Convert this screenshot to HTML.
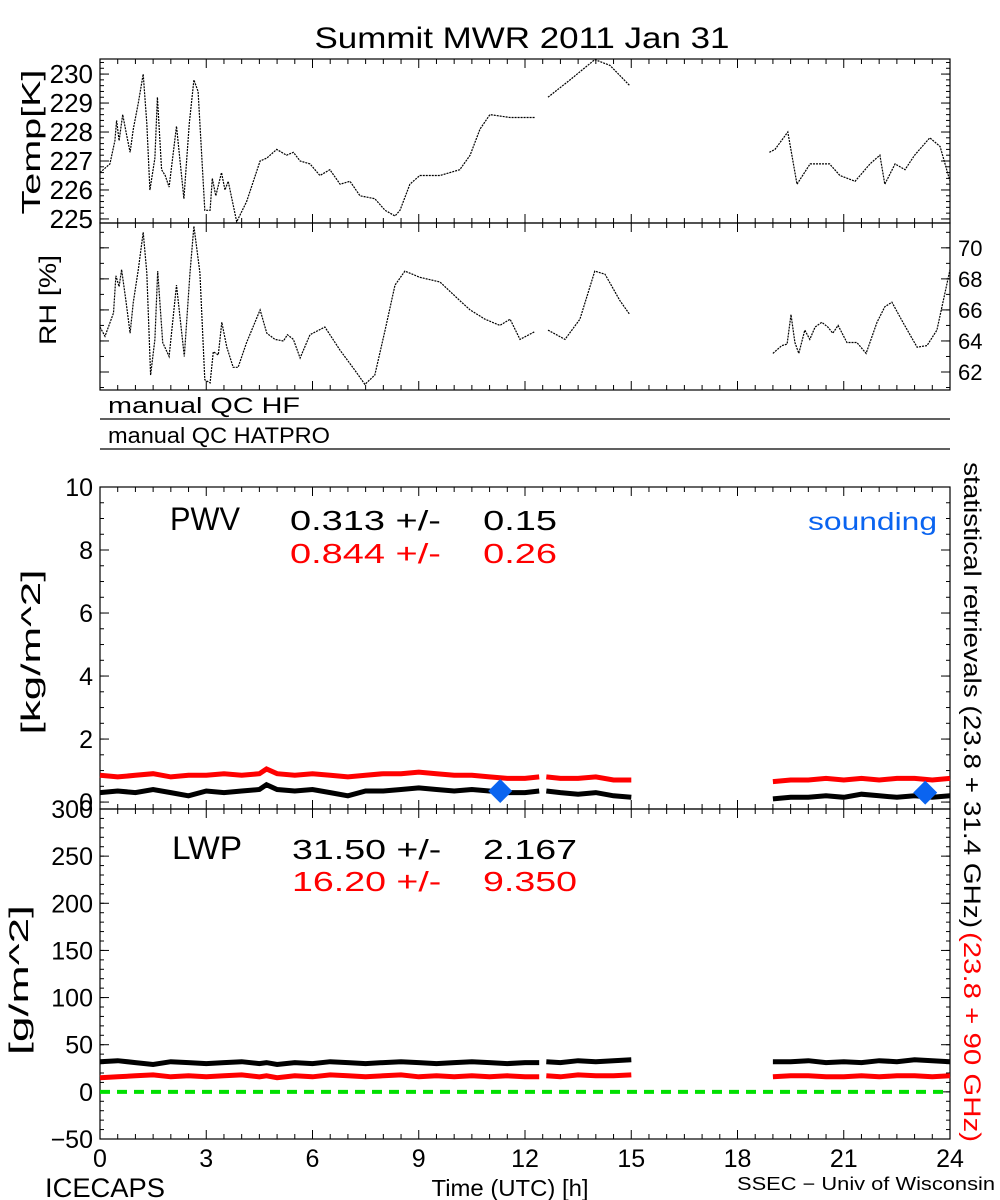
<!DOCTYPE html>
<html><head><meta charset="utf-8"><style>
html,body{margin:0;padding:0;background:#fff;}
svg{display:block;font-family:"Liberation Sans",sans-serif;}
text{white-space:pre;}
</style></head><body>
<svg id="c" width="1000" height="1200" viewBox="0 0 1000 1200"></svg>
<script>
// ---- data ----
const tempT=[0,.28,.42,.47,.54,.64,.75,.85,.94,1.08,1.22,1.32,1.41,1.55,1.62,1.74,1.84,1.95,2.16,2.37,2.52,2.65,2.77,2.96,3.11,3.17,3.27,3.43,3.53,3.62,3.86,4.14,4.52,4.71,4.99,5.27,5.46,5.65,5.93,6.21,6.49,6.78,7.06,7.34,7.76,8.05,8.33,8.47,8.75,9.03,9.6,10.16,10.45,10.73,11.01,11.58,12.28,null,12.65,13.27,13.97,14.4,14.96,null,18.9,19.06,19.42,19.68,20.05,20.6,20.89,21.32,21.74,22.02,22.16,22.45,22.73,23.0,23.43,23.72,24];
const tempV=[226.6,226.9,227.7,228.4,227.7,228.6,227.9,227.3,228.1,229.0,230.0,228.3,226.0,227.1,229.2,226.7,226.5,226.1,228.2,225.7,228.3,229.8,229.4,225.3,225.3,226.4,225.8,226.6,226.0,226.3,224.9,225.6,227.0,227.1,227.4,227.2,227.3,227.0,226.9,226.5,226.7,226.2,226.3,225.8,225.7,225.3,225.1,225.3,226.2,226.5,226.5,226.7,227.2,228.1,228.6,228.5,228.5,null,229.2,229.8,230.5,230.3,229.6,null,227.3,227.4,228.0,226.2,226.9,226.9,226.5,226.3,226.9,227.2,226.2,226.9,226.7,227.2,227.8,227.5,226.3];
const rhT=[0,.14,.38,.45,.54,.61,.73,.85,.94,1.08,1.22,1.32,1.43,1.55,1.63,1.77,1.95,2.16,2.38,2.54,2.65,2.82,2.96,3.11,3.2,3.34,3.44,3.58,3.76,3.9,4.14,4.52,4.71,4.94,5.18,5.29,5.46,5.65,5.93,6.35,6.78,7.2,7.48,7.76,8.05,8.33,8.61,9.03,9.6,10.16,10.45,10.87,11.29,11.58,11.86,12.28,null,12.65,13.13,13.55,13.97,14.26,14.68,14.96,null,19.0,19.25,19.4,19.51,19.62,19.73,19.9,20.04,20.19,20.38,20.55,20.69,20.84,21.09,21.37,21.63,21.94,22.16,22.36,22.67,23.07,23.35,23.63,23.86,24];
const rhV=[64.9,64.3,65.8,68.2,67.5,68.6,66.6,64.5,66.5,68.6,71.0,68.4,61.8,64.1,68.5,63.9,63.0,67.6,63.0,68.4,71.4,68.4,61.5,61.3,63.3,63.1,65.2,63.6,62.3,62.3,63.9,66.0,64.5,64.1,64.0,64.4,64.1,62.9,64.4,64.9,63.4,62.1,61.2,61.8,64.7,67.6,68.5,68.1,67.8,66.6,66.0,65.4,65.0,65.4,64.1,64.6,null,64.7,64.1,65.4,68.5,68.3,66.6,65.7,null,63.2,63.7,63.8,65.7,63.9,63.2,64.7,64.1,64.9,65.2,64.9,64.5,65.0,63.9,63.9,63.2,65.2,66.2,66.5,65.2,63.6,63.7,64.7,67.1,68.6];
const pwvT=[0,.5,1,1.5,2,2.5,3,3.5,4,4.5,4.7,5,5.5,6,6.5,7,7.5,8,8.5,9,9.5,10,10.5,11,11.5,12,12.4,null,12.6,13,13.5,14,14.5,15,null,19,19.5,20,20.5,21,21.5,22,22.5,23,23.5,24];
const pwvBlack=[.3,.35,.3,.4,.3,.2,.35,.3,.35,.4,.55,.4,.35,.4,.3,.2,.35,.35,.4,.45,.4,.35,.4,.35,.3,.3,.35,null,.35,.3,.25,.3,.2,.15,null,.1,.15,.15,.2,.15,.25,.2,.15,.2,.15,.2];
const pwvRed=[.85,.8,.85,.9,.8,.85,.85,.9,.85,.9,1.05,.9,.85,.9,.85,.8,.85,.9,.9,.95,.9,.85,.85,.8,.75,.75,.8,null,.8,.75,.75,.8,.7,.7,null,.65,.7,.7,.75,.7,.75,.7,.75,.75,.7,.75];
const lwpT=pwvT;
const lwpBlack=[32,33,31,29,32,31,30,31,32,30,31,29,31,30,32,31,30,31,32,31,30,31,32,31,30,31,31,null,32,31,33,32,33,34,null,32,32,33,31,32,31,33,32,34,33,32];
const lwpRed=[15,16,17,18,16,17,16,17,18,16,17,15,17,16,18,17,16,17,18,16,17,16,17,16,17,16,16,null,17,16,18,17,17,18,null,16,17,17,16,16,17,16,17,17,16,17];
const soundT=[11.3,23.3];
const soundV=[0.35,0.3];
const xTicks=[0,3,6,9,12,15,18,21,24];
const tempTicks=[225,226,227,228,229,230];
const rhTicks=[62,64,66,68,70];
const pwvTicks=[0,2,4,6,8,10];
const lwpTicks=[-50,0,50,100,150,200,250,300];

// ---- axes ----
const X0=100,X1=950;
const xs=h=>X0+(X1-X0)*h/24;
const P={temp:{top:59,bot:223,min:224.86,max:230.52},
         rh:{top:223,bot:390,min:60.84,max:71.6},
         pwv:{top:487,bot:809,min:-0.22,max:10},
         lwp:{top:809,bot:1139,min:-50,max:300}};
const ys=(p,v)=>p.bot-(p.bot-p.top)*(v-p.min)/(p.max-p.min);
const NS='http://www.w3.org/2000/svg';
const svg=document.getElementById('c');
function mk(tag,attrs,parent){const e=document.createElementNS(NS,tag);for(const k in attrs)e.setAttribute(k,attrs[k]);(parent||svg).appendChild(e);return e;}
function txt(s,x,y,size,fill,anchor,extra){const e=mk('text',Object.assign({x:x,y:y,'font-size':size,fill:fill||'#000','text-anchor':anchor||'start'},extra||{}));e.textContent=s;return e;}
function pathFrom(T,V,p){let d='',pen=false;for(let i=0;i<T.length;i++){if(T[i]===null||V[i]===null){pen=false;continue;}d+=(pen?'L':'M')+xs(T[i]).toFixed(1)+' '+ys(p,V[i]).toFixed(1);pen=true;}return d;}

for(const key of ['temp','rh','pwv','lwp']){
  const p=P[key];
  const r=mk('rect',{x:X0,y:p.top,width:X1-X0,height:p.bot-p.top,fill:'none',stroke:'#000','stroke-width':1.2});
  
  
  for(let h=0;h<=24;h+=0.5){
    const L=(h%3===0)?9:5;
    mk('line',{x1:xs(h),x2:xs(h),y1:p.bot,y2:p.bot-L,stroke:'#000'});
    mk('line',{x1:xs(h),x2:xs(h),y1:p.top,y2:p.top+L,stroke:'#000'});
  }
}
function yTicks(p,ticks,minorStep,side){
  const x=side==='left'?X0:X1, d=side==='left'?1:-1;
  for(let v=Math.ceil(p.min/minorStep)*minorStep;v<=p.max;v+=minorStep){
    mk('line',{x1:x,x2:x+d*4,y1:ys(p,v),y2:ys(p,v),stroke:'#000'});
  }
  for(const v of ticks){mk('line',{x1:x,x2:x+d*9,y1:ys(p,v),y2:ys(p,v),stroke:'#000'});}
}
yTicks(P.temp,tempTicks,0.2,'left');yTicks(P.temp,tempTicks,0.2,'right');
yTicks(P.rh,rhTicks,1,'left');yTicks(P.rh,rhTicks,1,'right');
yTicks(P.pwv,pwvTicks,0.5,'left');yTicks(P.pwv,pwvTicks,0.5,'right');
yTicks(P.lwp,lwpTicks,10,'left');yTicks(P.lwp,lwpTicks,10,'right');

for(const v of tempTicks){const t=txt(String(v),93,ys(P.temp,v)+9,26,'#000','end');}
for(const v of rhTicks){const t=txt(String(v),958,ys(P.rh,v)+8,22,'#000','start');}
for(const v of pwvTicks){const t=txt(String(v),93,ys(P.pwv,v)+9,25,'#000','end');}
for(const v of lwpTicks){const t=txt(v<0?'\u2212'+(-v):String(v),93,ys(P.lwp,v)+9,25,'#000','end');}
for(const h of xTicks){const t=txt(String(h),xs(h),1167,25,'#000','middle');}

let e;
e=mk('path',{d:pathFrom(tempT,tempV,P.temp),fill:'none',stroke:'#000','stroke-width':1.2,'stroke-dasharray':'2 1'});


e=mk('path',{d:pathFrom(rhT,rhV,P.rh),fill:'none',stroke:'#000','stroke-width':1.2,'stroke-dasharray':'2 1'});


e=mk('path',{d:pathFrom(pwvT,pwvRed,P.pwv),fill:'none',stroke:'#ff0000','stroke-width':5});


e=mk('path',{d:pathFrom(pwvT,pwvBlack,P.pwv),fill:'none',stroke:'#000','stroke-width':5});


for(let i=0;i<soundT.length;i++){
  const cx=xs(soundT[i]),cy=ys(P.pwv,soundV[i]);
  e=mk('polygon',{points:`${cx},${cy-12} ${cx+12},${cy} ${cx},${cy+12} ${cx-12},${cy}`,fill:'#0a64f0'});
  
  
}
e=mk('path',{d:pathFrom(lwpT,lwpBlack,P.lwp),fill:'none',stroke:'#000','stroke-width':5});


e=mk('path',{d:pathFrom(lwpT,lwpRed,P.lwp),fill:'none',stroke:'#ff0000','stroke-width':5});


e=mk('line',{x1:X0,x2:945,y1:ys(P.lwp,0),y2:ys(P.lwp,0),stroke:'#00e000','stroke-width':4,'stroke-dasharray':'10 7'});



e=mk('line',{x1:X0,x2:X1,y1:419,y2:419,stroke:'#000','stroke-width':1.2});


e=mk('line',{x1:X0,x2:X1,y1:449,y2:449,stroke:'#000','stroke-width':1.2});


</script>
<script>
(function(){
const svg=document.getElementById('c');
const NS='http://www.w3.org/2000/svg';
function t(s,x,y,size,fill,anchor,name,rot,len){const e=document.createElementNS(NS,'text');e.setAttribute('x',x);e.setAttribute('y',y);e.setAttribute('font-size',size);e.setAttribute('fill',fill);e.setAttribute('text-anchor',anchor);if(rot)e.setAttribute('transform',`rotate(${rot} ${x} ${y})`);if(len){e.setAttribute('textLength',len);e.setAttribute('lengthAdjust','spacingAndGlyphs');}e.textContent=s;


svg.appendChild(e);return e;}
t('Summit MWR 2011 Jan 31',522,48,30,'#000','middle','chart-title',0,415);
t('Temp[K]',40,142,26,'#000','middle','temp-axis-title',-90,145);
t('RH [%]',56,300,24,'#000','middle','rh-axis-title',-90,90);
t('manual QC HF',108,413,22,'#000','start','qc-hf-label',0,192);
t('manual QC HATPRO',108,443,22,'#000','start','qc-hatpro-label',0,222);
t('[kg/m^2]',40,652,27,'#000','middle','pwv-axis-title',-90,165);
t('[g/m^2]',28,980,27,'#000','middle','lwp-axis-title',-90,150);
t('PWV',170,530,32,'#000','start','pwv-label',0,70);
t('0.313 +/-    0.15',290,530,28,'#000','start','pwv-black-stat',0,267);
t('0.844 +/-    0.26',290,563,28,'#ff0000','start','pwv-red-stat',0,267);
t('sounding',808,530,25,'#0a64f0','start','sounding-legend',0,129);
t('LWP',172,859,32,'#000','start','lwp-label',0,70);
t('31.50 +/-    2.167',292,859,28,'#000','start','lwp-black-stat',0,285);
t('16.20 +/-    9.350',292,891,28,'#ff0000','start','lwp-red-stat',0,285);
t('statistical retrievals (23.8 + 31.4 GHz)',964,462,24,'#000','start','right-title-black',90,466);
t('(23.8 + 90 GHz)',964,932,24,'#ff0000','start','right-title-red',90,210);
t('ICECAPS',45,1197,27,'#000','start','icecaps-label',0,120);
t('Time (UTC) [h]',510,1196,23,'#000','middle','x-axis-title',0,157);
t('SSEC \u2212 Univ of Wisconsin',737,1190,18,'#000','start','credit-label',0,258);
})();
</script>
</body></html>
